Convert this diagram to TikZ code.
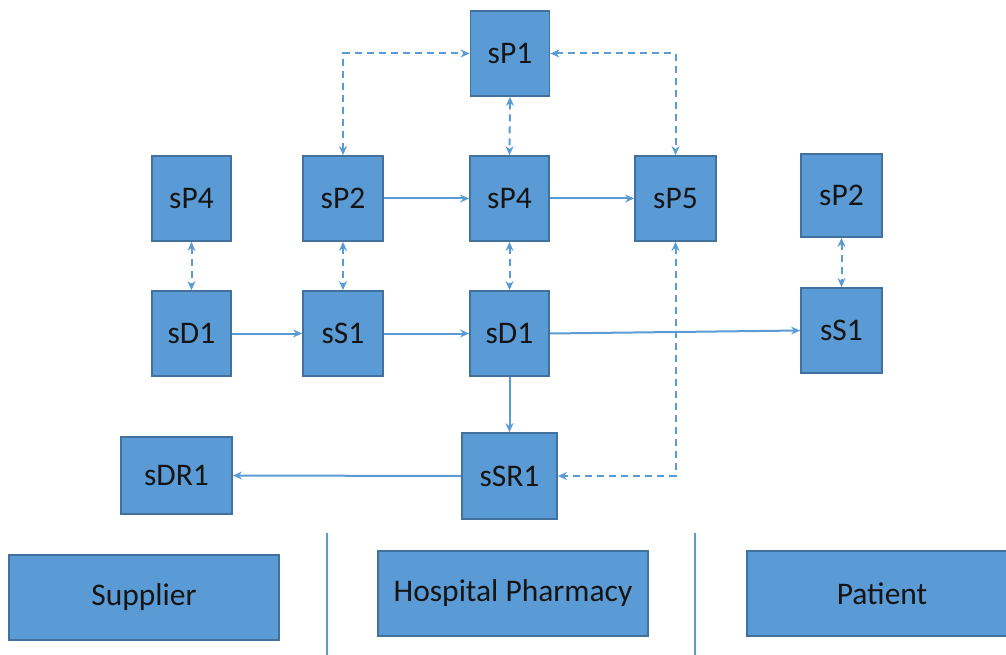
\documentclass[tikz,border=0pt]{standalone}
\usepackage{fontspec}
\setmainfont{Carlito}
\usetikzlibrary{arrows.meta}
\definecolor{boxfill}{HTML}{5B9BD5}
\definecolor{boxline}{HTML}{41719C}
\definecolor{linkcol}{HTML}{5B9BD5}
\definecolor{txt}{HTML}{151515}
\begin{document}
\begin{tikzpicture}[x=1pt,y=-1pt,
  blk/.style={draw=boxline,line width=1.8pt,fill=boxfill,inner sep=0pt,
    text=txt,font=\fontsize{31.5}{38}\selectfont},
  sq/.style={blk,minimum width=79pt,minimum height=85pt},
  flow/.style={draw=linkcol,line width=2pt,-{Stealth[length=9pt,width=8pt]}},
  link/.style={draw=linkcol,line width=2pt,dash pattern=on 7pt off 5pt,
    {Stealth[length=9pt,width=8pt]}-{Stealth[length=9pt,width=8pt]}},
  sep/.style={draw=linkcol,line width=1.3pt}]
\useasboundingbox (0,0) rectangle (1006,655);
\clip (0,0) rectangle (1006,655);

% process boxes
\node[sq] (p1)  at (510,53.5)   {sP1};
\node[sq] (p4a) at (191.5,198.5) {sP4};
\node[sq,minimum width=80pt] (p2a) at (343,198.5) {sP2};
\node[sq] (p4b) at (509.5,198.5) {sP4};
\node[sq,minimum width=81pt] (p5)  at (675.5,198.5) {sP5};
\node[sq,minimum width=81pt,minimum height=83pt] (p2b) at (841.5,195.5) {sP2};
\node[sq] (d1a) at (191.5,333.5) {sD1};
\node[sq,minimum width=80pt] (s1a) at (343,333.5) {sS1};
\node[sq] (d1b) at (509.5,333.5) {sD1};
\node[sq,minimum width=81pt] (s1b) at (841.5,330.5) {sS1};
\node[blk,minimum width=111pt,minimum height=77pt] (dr1) at (176.5,475.5) {sDR1};
\node[blk,minimum width=95pt,minimum height=86pt] (sr1) at (509.5,476) {sSR1};

% swimlane labels
\node[blk,minimum width=270pt,minimum height=85pt] (sup) at (144,597.5) {Supplier};
\node[blk,minimum width=270pt,minimum height=85pt] (hos) at (513,593.5) {Hospital Pharmacy};
\node[blk,minimum width=270pt,minimum height=85pt] (pat) at (882,593.5) {Patient};

% lane separators
\coordinate (l1t) at (327,533); \coordinate (l1b) at (327,655);
\coordinate (l2t) at (695,533); \coordinate (l2b) at (695,655);
\draw[sep] (l1t) -- (l1b);
\draw[sep] (l2t) -- (l2b);

% information links (dashed, two-way)
\draw[link] (p2a.north) |- (p1.west);
\draw[link] (p1.east) -| (p5.north);
\draw[link] (p1.south) -- (p4b.north);
\draw[link] (p4a.south) -- (d1a.north);
\draw[link] (p2a.south) -- (s1a.north);
\draw[link] (p4b.south) -- (d1b.north);
\draw[link] (p2b.south) -- (s1b.north);
\draw[link] (p5.south) |- (sr1.east);

% material flow (solid)
\draw[flow] (p2a.east) -- (p4b.west);
\draw[flow] (p4b.east) -- (p5.west);
\draw[flow] (d1a.east) -- (s1a.west);
\draw[flow] (s1a.east) -- (d1b.west);
\draw[flow] (d1b.east) -- (s1b.west);
\draw[flow] (d1b.south) -- (sr1.north);
\draw[flow] (sr1.west) -- (dr1.east);
\end{tikzpicture}
\end{document}
